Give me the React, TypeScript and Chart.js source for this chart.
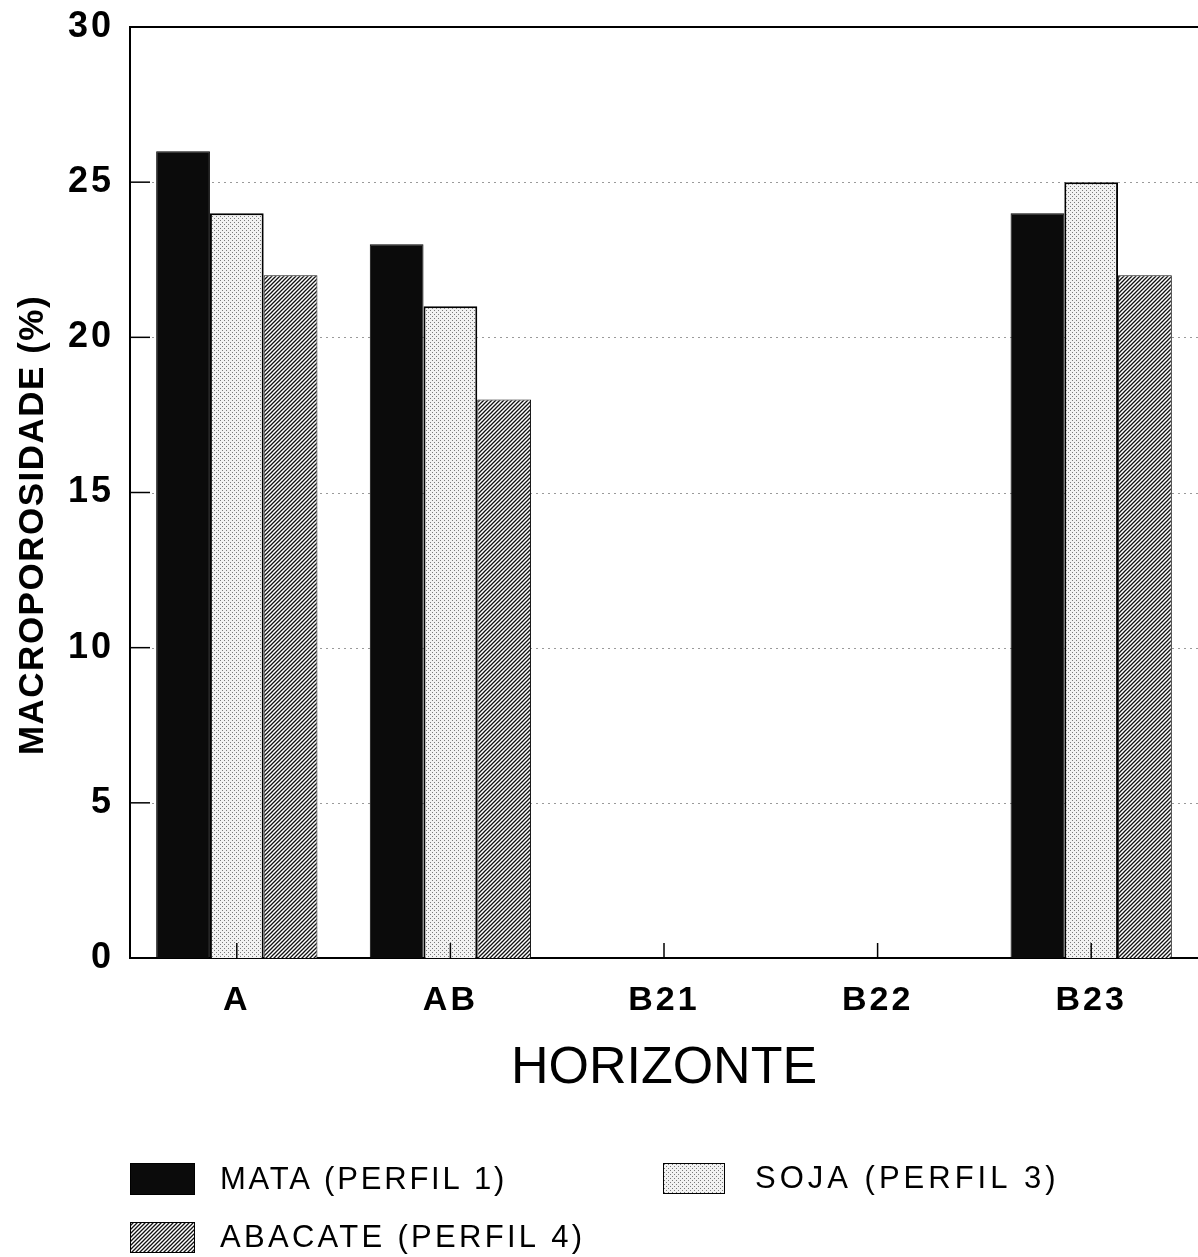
import { useEffect, useRef } from 'react';
import { Chart, registerables } from 'chart.js';

Chart.register(...registerables);

const categories = ['A', 'AB', 'B21', 'B22', 'B23'];
const mata = [26, 23, null, null, 24];
const soja = [24, 21, null, null, 25];
const abacate = [22, 18, null, null, 22];
const seriesLabels = ['MATA (PERFIL 1)', 'SOJA (PERFIL 3)', 'ABACATE (PERFIL 4)'];
const yTicks = [0, 5, 10, 15, 20, 25, 30];
const xTitle = 'HORIZONTE';
const yTitle = 'MACROPOROSIDADE (%)';

const FONT = "'Liberation Sans', Arial, Helvetica, sans-serif";

function makeDots(ctx: CanvasRenderingContext2D) {
  const c = document.createElement('canvas');
  c.width = 4;
  c.height = 4;
  const g = c.getContext('2d')!;
  g.fillStyle = '#f2f2f2';
  g.fillRect(0, 0, 4, 4);
  g.fillStyle = '#7a7a7a';
  g.fillRect(0, 0, 1, 1);
  g.fillRect(2, 2, 1, 1);
  return ctx.createPattern(c, 'repeat')!;
}

function makeHatch(ctx: CanvasRenderingContext2D) {
  const s = 4;
  const c = document.createElement('canvas');
  c.width = s;
  c.height = s;
  const g = c.getContext('2d')!;
  g.fillStyle = '#ffffff';
  g.fillRect(0, 0, s, s);
  g.strokeStyle = '#111';
  g.lineWidth = 1.3;
  g.beginPath();
  g.moveTo(-1, s + 1);
  g.lineTo(s + 1, -1);
  g.moveTo(-1, 1);
  g.lineTo(1, -1);
  g.moveTo(s - 1, s + 1);
  g.lineTo(s + 1, s - 1);
  g.stroke();
  return ctx.createPattern(c, 'repeat')!;
}

export default function App() {
  const ref = useRef<HTMLCanvasElement>(null);

  useEffect(() => {
    const canvas = ref.current!;
    const ctx = canvas.getContext('2d')!;
    const dots = makeDots(ctx);
    const hatch = makeHatch(ctx);
    const fills = ['#0b0b0b', dots, hatch];

    const decor = {
      id: 'decor',
      beforeDraw(chart: any) {
        (chart.ctx as any).letterSpacing = '3px';
      },
      beforeDatasetsDraw(chart: any) {
        const { ctx: c, chartArea: a, scales } = chart;
        const y = scales.y;
        c.save();
        c.strokeStyle = '#9a9a9a';
        c.lineWidth = 1;
        c.setLineDash([2, 4]);
        for (const v of yTicks) {
          if (v === 0 || v === 30) continue;
          const py = Math.round(y.getPixelForValue(v)) + 0.5;
          c.beginPath();
          c.moveTo(a.left + 22, py);
          c.lineTo(a.right, py);
          c.stroke();
        }
        c.restore();
      },
      afterDatasetsDraw(chart: any) {
        const { ctx: c, chartArea: a, scales } = chart;
        const x = scales.x;
        const y = scales.y;
        c.save();
        c.strokeStyle = '#000';
        c.lineWidth = 2;
        c.beginPath();
        c.moveTo(a.left - 1, a.top);
        c.lineTo(a.right, a.top);
        c.stroke();
        c.lineWidth = 1.5;
        for (const v of yTicks) {
          if (v === 0 || v === 30) continue;
          const py = y.getPixelForValue(v);
          c.beginPath();
          c.moveTo(a.left, py);
          c.lineTo(a.left + 20, py);
          c.stroke();
        }
        categories.forEach((_, i) => {
          const px = x.getPixelForValue(i);
          c.beginPath();
          c.moveTo(px, a.bottom);
          c.lineTo(px, a.bottom - 15);
          c.stroke();
        });
        c.restore();
      },
      afterDraw(chart: any) {
        const c = chart.ctx as any;
        const a = chart.chartArea;
        c.letterSpacing = '0px';
        c.save();
        c.fillStyle = '#000';
        c.font = `52px ${FONT}`;
        c.textAlign = 'center';
        c.textBaseline = 'middle';
        c.fillText(xTitle, (a.left + a.right) / 2, 1069);
        c.save();
        c.translate(33, 525);
        c.rotate(-Math.PI / 2);
        c.letterSpacing = '1.5px';
        c.font = `bold 35px ${FONT}`;
        c.fillText(yTitle, 0, 0);
        c.restore();
        const items = [
          { x: 130, y: 1163, w: 65, h: 32, tx: 220, spacing: 2.8 },
          { x: 663, y: 1163, w: 62, h: 31, tx: 755, spacing: 4 },
          { x: 130, y: 1222, w: 65, h: 31, tx: 220, spacing: 3.3 },
        ];
        items.forEach((it, i) => {
          c.fillStyle = fills[i];
          c.fillRect(it.x, it.y, it.w, it.h);
          c.strokeStyle = '#000';
          c.lineWidth = 1;
          c.strokeRect(it.x + 0.5, it.y + 0.5, it.w - 1, it.h - 1);
          c.fillStyle = '#000';
          c.font = `31px ${FONT}`;
          c.letterSpacing = `${it.spacing}px`;
          c.textAlign = 'left';
          c.textBaseline = 'middle';
          c.fillText(seriesLabels[i], it.tx, it.y + it.h / 2 + 1);
          c.letterSpacing = '0px';
        });
        c.restore();
      },
    };

    const chart = new Chart(canvas, {
      type: 'bar',
      data: {
        labels: categories,
        datasets: [
          { label: seriesLabels[0], data: mata, backgroundColor: fills[0], borderColor: '#000', borderWidth: 1 },
          { label: seriesLabels[1], data: soja, backgroundColor: fills[1], borderColor: '#000', borderWidth: 2 },
          { label: seriesLabels[2], data: abacate, backgroundColor: fills[2], borderColor: '#111', borderWidth: 1 },
        ] as any,
      },
      options: {
        responsive: false,
        animation: false,
        events: [],
        layout: { padding: { left: 0, right: 0, top: 27, bottom: 239 } },
        datasets: { bar: { categoryPercentage: 0.755, barPercentage: 1 } },
        plugins: { legend: { display: false }, tooltip: { enabled: false } },
        scales: {
          x: {
            type: 'category',
            grid: { display: false, drawTicks: false },
            border: { display: true, color: '#000', width: 2 },
            ticks: {
              color: '#000',
              font: { family: FONT, size: 34, weight: 'bold' },
              padding: 22,
              maxRotation: 0,
              autoSkip: false,
            },
            afterFit: (s: any) => {
              s.height = 60;
              s.paddingLeft = 0;
              s.paddingRight = 0;
              s.paddingTop = 0;
              s.paddingBottom = 0;
            },
          },
          y: {
            min: 0,
            max: 30,
            grid: { display: false, drawTicks: false },
            border: { display: true, color: '#000', width: 2 },
            ticks: {
              stepSize: 5,
              color: '#000',
              font: { family: FONT, size: 36, weight: 'bold' },
              padding: 16,
            },
            afterFit: (s: any) => {
              s.width = 130;
              s.paddingTop = 0;
              s.paddingBottom = 0;
              s.paddingLeft = 0;
              s.paddingRight = 0;
            },
          },
        },
      } as any,
      plugins: [decor],
    });

    return () => chart.destroy();
  }, []);

  return (
    <div style={{ position: 'absolute', left: 0, top: 0, width: 1198, height: 1257, background: '#fff' }}>
      <canvas ref={ref} width={1198} height={1257} style={{ display: 'block' }} />
    </div>
  );
}
